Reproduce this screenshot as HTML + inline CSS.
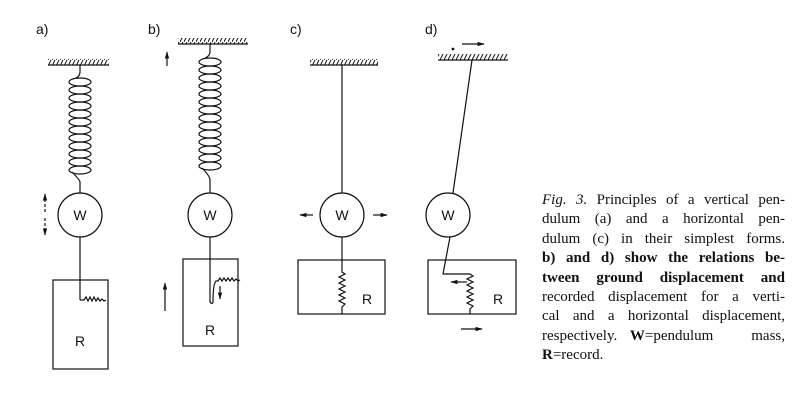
<!DOCTYPE html>
<html><head><style>
body{margin:0;background:#fff;width:796px;height:400px;overflow:hidden;position:relative;}
svg{position:absolute;left:0;top:0}
.txt{position:absolute;left:542px;top:191px;width:243px;font-family:"Liberation Serif",serif;font-size:15px;color:#111;}
.txt div{height:19.4px;line-height:19.4px;text-align:justify;text-align-last:justify;white-space:nowrap;}
.txt div.l{text-align-last:left}
b{font-weight:bold}
</style></head><body>
<svg width="796" height="400" viewBox="0 0 796 400" font-family="Liberation Sans, sans-serif" fill="none" stroke="#111" stroke-width="1.2">
<defs>
<pattern id="h" width="4" height="6" patternUnits="userSpaceOnUse"><line x1="0" y1="6" x2="3" y2="0" stroke="#111" stroke-width="1"/></pattern>
<marker id="ar" viewBox="0 0 10 10" refX="9" refY="5" markerWidth="6" markerHeight="6" orient="auto"><path d="M0,2 L10,5 L0,8z" fill="#111" stroke="none"/></marker>
</defs>
<g fill="#111" stroke="none" font-size="14">
<text x="36" y="34">a)</text><text x="148" y="34">b)</text><text x="290" y="34">c)</text><text x="425" y="34">d)</text>
</g>
<!-- a -->
<rect x="48" y="59" width="61" height="6" fill="url(#h)" stroke="none"/>
<line x1="48" y1="65" x2="109" y2="65"/>
<path d="M80,65 V72 Q80,76 76,78"/>
<g>
<ellipse cx="80" cy="82" rx="11" ry="4"/><ellipse cx="80" cy="90" rx="11" ry="4"/><ellipse cx="80" cy="98" rx="11" ry="4"/><ellipse cx="80" cy="106" rx="11" ry="4"/><ellipse cx="80" cy="114" rx="11" ry="4"/><ellipse cx="80" cy="122" rx="11" ry="4"/><ellipse cx="80" cy="130" rx="11" ry="4"/><ellipse cx="80" cy="138" rx="11" ry="4"/><ellipse cx="80" cy="146" rx="11" ry="4"/><ellipse cx="80" cy="154" rx="11" ry="4"/><ellipse cx="80" cy="162" rx="11" ry="4"/><ellipse cx="80" cy="170" rx="11" ry="4"/>
</g>
<path d="M72,172 Q80,180 80,182 V193"/>
<circle cx="80" cy="215" r="22"/>
<text x="80" y="220" text-anchor="middle" font-size="14" fill="#111" stroke="none">W</text>
<line x1="45" y1="212" x2="45" y2="194" stroke-dasharray="3,2" marker-end="url(#ar)"/>
<line x1="45" y1="218" x2="45" y2="235" stroke-dasharray="3,2" marker-end="url(#ar)"/>
<line x1="80" y1="237" x2="80" y2="300"/>
<rect x="53" y="280" width="55" height="89"/>
<path d="M80,300 H84 l2,-3 2,4 2,-4 2,4 2,-4 2,4 2,-3 2,3 2,-2 2,2 2,-1"/>
<text x="80" y="346" text-anchor="middle" font-size="14" fill="#111" stroke="none">R</text>
<!-- b -->
<rect x="178" y="38" width="70" height="6" fill="url(#h)" stroke="none"/>
<line x1="178" y1="44" x2="248" y2="44"/>
<line x1="167" y1="66" x2="167" y2="52" marker-end="url(#ar)"/>
<path d="M210,44 V52 Q210,56 205,58"/>
<g>
<ellipse cx="210" cy="62" rx="11" ry="4"/><ellipse cx="210" cy="70" rx="11" ry="4"/><ellipse cx="210" cy="78" rx="11" ry="4"/><ellipse cx="210" cy="86" rx="11" ry="4"/><ellipse cx="210" cy="94" rx="11" ry="4"/><ellipse cx="210" cy="102" rx="11" ry="4"/><ellipse cx="210" cy="110" rx="11" ry="4"/><ellipse cx="210" cy="118" rx="11" ry="4"/><ellipse cx="210" cy="126" rx="11" ry="4"/><ellipse cx="210" cy="134" rx="11" ry="4"/><ellipse cx="210" cy="142" rx="11" ry="4"/><ellipse cx="210" cy="150" rx="11" ry="4"/><ellipse cx="210" cy="158" rx="11" ry="4"/><ellipse cx="210" cy="166" rx="11" ry="4"/>
</g>
<path d="M202,168 Q210,176 210,180 V193"/>
<circle cx="210" cy="215" r="22"/>
<text x="210" y="220" text-anchor="middle" font-size="14" fill="#111" stroke="none">W</text>
<rect x="183" y="259" width="55" height="87"/>
<path d="M210,237 V302 Q212,305 213,302 Q213,284 216,281 l2,0 2,-3 2,3 2,-3 2,3 2,-3 2,3 2,-3 2,3 2,-2 2,2 2,-1"/>
<line x1="220" y1="286" x2="220" y2="299" marker-end="url(#ar)"/>
<line x1="165" y1="311" x2="165" y2="283" marker-end="url(#ar)"/>
<text x="210" y="335" text-anchor="middle" font-size="14" fill="#111" stroke="none">R</text>
<!-- c -->
<rect x="310" y="59" width="68" height="6" fill="url(#h)" stroke="none"/>
<line x1="310" y1="65" x2="378" y2="65"/>
<line x1="342" y1="65" x2="342" y2="193"/>
<circle cx="342" cy="215" r="22"/>
<text x="342" y="220" text-anchor="middle" font-size="14" fill="#111" stroke="none">W</text>
<line x1="313" y1="215" x2="300" y2="215" marker-end="url(#ar)"/>
<line x1="373" y1="215" x2="387" y2="215" marker-end="url(#ar)"/>
<rect x="298" y="260" width="87" height="54"/>
<path d="M342,237 V272 l3,2 -6,3 6,3 -6,3 6,3 -6,3 6,3 -6,3 6,3 -6,3 6,3 -3,3 V314"/>
<text x="367" y="304" text-anchor="middle" font-size="14" fill="#111" stroke="none">R</text>
<!-- d -->
<rect x="438" y="54" width="70" height="6" fill="url(#h)" stroke="none"/>
<line x1="438" y1="60" x2="508" y2="60"/>
<circle cx="453" cy="49" r="0.8" fill="#111"/>
<line x1="462" y1="44" x2="484" y2="44" marker-end="url(#ar)"/>
<line x1="472" y1="60" x2="453" y2="193"/>
<circle cx="448" cy="215" r="22"/>
<text x="448" y="220" text-anchor="middle" font-size="14" fill="#111" stroke="none">W</text>
<rect x="428" y="260" width="88" height="54"/>
<path d="M450,237 L443,274 H470 l3,2 -6,3 6,3 -6,3 6,3 -6,3 6,3 -6,3 6,3 -6,3 6,3 -3,3 V314"/>
<line x1="467" y1="282" x2="451" y2="282" marker-end="url(#ar)"/>
<line x1="461" y1="329" x2="482" y2="329" marker-end="url(#ar)"/>
<text x="498" y="304" text-anchor="middle" font-size="14" fill="#111" stroke="none">R</text>
</svg>
<div class="txt">
<div><i>Fig. 3.</i> Principles of a vertical pen-</div>
<div>dulum (a) and a horizontal pen-</div>
<div>dulum (c) in their simplest forms.</div>
<div><b>b) and d) show the relations be-</b></div>
<div><b>tween ground displacement and</b></div>
<div>recorded displacement for a verti-</div>
<div>cal and a horizontal displacement,</div>
<div>respectively. <b>W</b>=pendulum &nbsp; mass,</div>
<div class="l"><b>R</b>=record.</div>
</div>
</body></html>
